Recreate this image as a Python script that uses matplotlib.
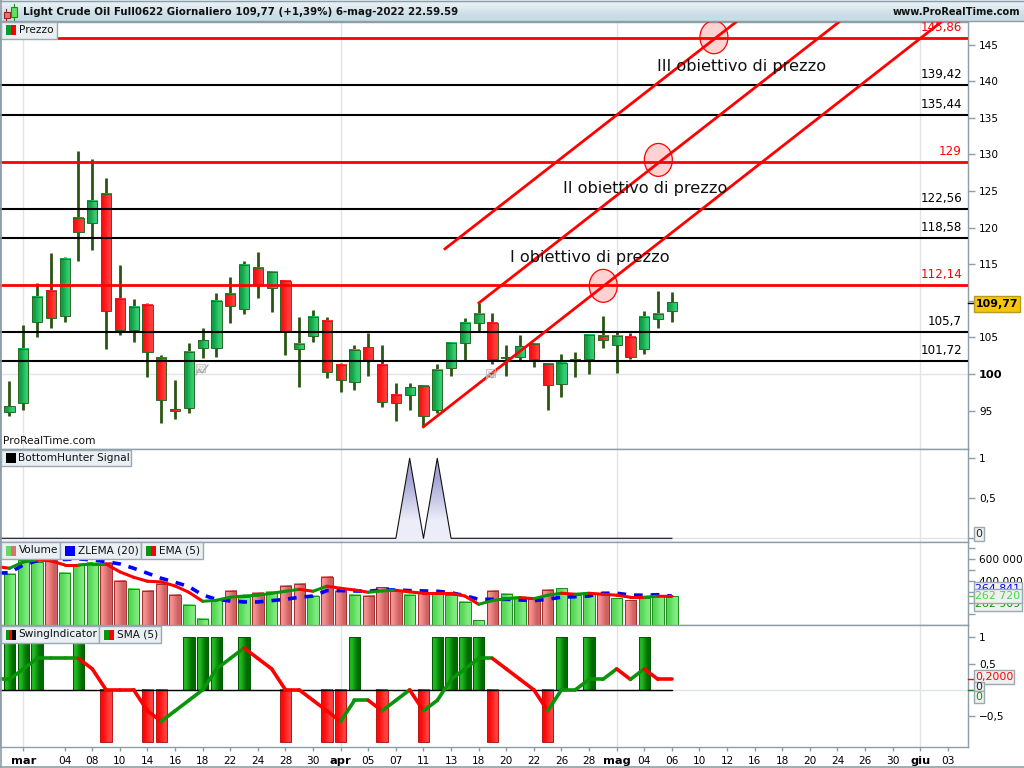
import numpy as np
import matplotlib
matplotlib.use("Agg")
import matplotlib.pyplot as plt
from matplotlib.colors import LinearSegmentedColormap
from matplotlib.patches import Rectangle, Ellipse

# price candles, one per session
opens = [94.84, 95.99, 107.07, 111.31, 107.89, 121.30, 120.62, 124.58, 110.30, 105.98,
         109.40, 102.15, 95.17, 95.31, 103.52, 103.52, 110.90, 108.85, 114.46, 111.72,
         112.76, 103.38, 105.16, 107.29, 101.23, 98.86, 103.65, 101.19, 97.09, 97.09,
         98.32, 95.03, 100.78, 104.20, 106.94, 106.94, 102.15, 102.37, 104.06, 101.33,
         98.59, 101.74, 102.01, 105.16, 103.93, 105.02, 103.38, 107.48, 108.58]
highs = [99.04, 106.70, 112.41, 116.51, 115.96, 130.51, 129.41, 126.81, 114.91, 110.22,
         109.67, 102.56, 99.18, 104.20, 106.25, 111.04, 113.27, 115.42, 116.65, 114.05,
         112.82, 107.76, 108.76, 107.76, 101.55, 103.93, 105.57, 103.93, 98.73, 98.73,
         98.50, 101.33, 104.34, 107.62, 109.67, 108.30, 103.93, 105.29, 104.20, 101.33,
         102.69, 102.97, 105.29, 107.89, 105.84, 105.57, 108.58, 111.31, 111.18]
lows = [94.30, 95.08, 105.10, 106.33, 107.15, 115.50, 117.00, 103.46, 105.38, 104.42,
        99.63, 93.34, 93.89, 94.71, 102.23, 102.37, 107.02, 108.25, 110.44, 108.52,
        102.64, 98.26, 104.42, 99.49, 97.58, 97.85, 99.77, 95.53, 93.61, 95.12,
        92.79, 94.71, 99.77, 101.96, 105.92, 101.41, 99.77, 101.78, 101.00, 95.12,
        96.89, 99.63, 100.04, 103.60, 100.18, 102.01, 102.78, 106.33, 107.15]
closes = [95.58, 103.38, 110.49, 107.62, 115.69, 119.38, 123.63, 108.58, 105.98, 109.21,
          102.97, 96.40, 94.90, 102.97, 104.61, 109.95, 109.26, 114.87, 112.13, 113.91,
          105.84, 104.15, 107.76, 100.23, 99.14, 103.24, 101.82, 96.13, 95.99, 98.18,
          94.21, 100.51, 104.20, 106.94, 108.17, 102.01, 102.28, 103.79, 102.01, 98.45,
          101.55, 102.01, 105.29, 104.61, 105.16, 102.28, 107.76, 108.17, 109.77]

# horizontal levels and their labels
black_levels = [139.42, 135.44, 122.56, 118.58, 105.7, 101.72]
black_labels = ["139,42", "135,44", "122,56", "118,58", "105,7", "101,72"]
red_levels = [145.86, 129, 112.14]
red_labels = ["145,86", "129", "112,14"]

# channel lines
trend_x = [[30.0, 67.57], [34.02, 60.1], [31.56, 52.64]]
trend_y = [[92.79, 148.15], [109.71, 148.06], [117.10, 148.06]]

# price targets
target_x = [43.03, 47.02, 51.05]
target_y = [112.04, 129.24, 146.0]
target_names = ["I obiettivo di prezzo", "II obiettivo di prezzo", "III obiettivo di prezzo"]
target_text_x = [36.27, 40.1, 46.9]
target_text_y = [115.87, 125.3, 142.0]

# BottomHunter signal, starts one session before the first candle
hunter = [0, 0, 0, 0, 0, 0, 0, 0, 0, 0, 0, 0, 0, 0, 0, 0, 0, 0, 0, 0, 0, 0, 0, 0, 0, 0, 0, 0, 0, 0,
          1, 0, 1, 0, 0, 0, 0, 0, 0, 0, 0, 0, 0, 0, 0, 0, 0, 0, 0, 0]

# volume in thousands
volume = [464, 594, 575, 594, 473, 548, 566, 566, 400, 327, 309, 373, 273, 182, 55, 236, 309,
          255, 291, 300, 355, 373, 264, 436, 309, 273, 264, 345, 309, 273, 291, 291, 273, 209,
          45, 309, 282, 255, 236, 318, 336, 273, 291, 282, 245, 227, 245, 264, 262.72]
# these two start one session before the first candle
ema5 = [535, 518, 575, 594, 585, 548, 548, 557, 557, 485, 436, 400, 394, 357, 300, 218, 227,
        255, 266, 273, 291, 309, 327, 309, 355, 336, 321, 300, 312, 318, 303, 291, 291, 291,
        266, 191, 224, 242, 251, 242, 273, 291, 282, 291, 282, 273, 255, 255, 264, 262.9]
zlema20 = [473, 478, 548, 587, 594, 598, 603, 594, 578, 557, 518, 473, 427, 391, 351, 275, 236,
           221, 212, 212, 224, 236, 255, 266, 315, 315, 312, 309, 321, 321, 315, 312, 309, 296,
           269, 236, 236, 236, 230, 224, 236, 255, 260, 266, 291, 291, 275, 273, 278, 264.84]

# SwingIndicator bars and its 5 period average
swing = [1, 1, 1, 0, 0, 1, 0, -1, 0, 0, -1, -1, 0, 1, 1, 1, 0, 1, 0, 0, -1, 0, 0, -1, -1, 1, 0,
         -1, 0, 0, -1, 1, 1, 1, 1, -1, 0, 0, 0, -1, 1, 0, 1, 0, 0, 0, 1, 0, 0]
swing_sma = [.2, .2, .4, .6, .6, .6, .6, .4, 0, 0, 0, -.4, -.6, -.4, -.2, 0, .4, .6, .8, .6, .4, 0, 0,
             -.2, -.4, -.6, -.2, -.2, -.4, -.2, 0, -.4, -.2, .2, .4, .6, .6, .4, .2, 0, -.4, 0, 0,
             .2, .2, .4, .2, .4, .2, .2]

# y axis labels of the price panel, 110 sits under the last price badge
price_ticks = [95, 100, 105, 110, 115, 120, 125, 130, 135, 140, 145]
price_tick_names = ["95", "100", "105", "", "115", "120", "125", "130", "135", "140", "145"]

# x axis
tick_idx = [1, 4, 6, 8, 10, 12, 14, 16, 18, 20, 22, 24, 26, 28, 30, 32, 34, 36, 38, 40, 42, 44,
            46, 48, 50, 52, 54, 56, 58, 60, 62, 64, 66, 68]
tick_names = ["mar", "04", "08", "10", "14", "16", "18", "22", "24", "28", "30", "apr", "05", "07",
              "11", "13", "18", "20", "22", "26", "28", "mag", "04", "06", "10", "12", "16", "18",
              "20", "24", "26", "30", "giu", "03"]
month_idx = [1, 24, 44, 66]

AXCOL = "#8e9ea8"
GRID = "#e0e3e8"
WICK = "#2a5512"
EDGE = "#2a6a22"
GREEN = "#0a940a"
RED = "#ff0000"
XLIM = (-0.688, 69.46)

def cmap(a, b):
    return LinearSegmentedColormap.from_list("g", [a, b])

CANDLE_G = cmap("#0fa045", "#34cc72")
CANDLE_R = cmap("#ff1010", "#ff3c3c")
VOL_G = cmap("#55d855", "#80ea80")
VOL_R = cmap("#f59090", "#d06060")
SW_G = cmap("#20b820", "#006a00")
SW_R = cmap("#ff0808", "#ff4040")
HEAD = cmap("#e4eef3", "#c8dce6")

plt.rcParams["font.family"] = "DejaVu Sans"
fig = plt.figure(figsize=(10.24, 7.68), dpi=100, facecolor="white")

def panel(top, bottom, ylim):
    ax = fig.add_axes([0, 1 - bottom / 768, 968 / 1024, (bottom - top) / 768])
    ax.set_xlim(*XLIM)
    ax.set_ylim(*ylim)
    ax.set_autoscale_on(False)
    ax.yaxis.tick_right()
    ax.tick_params(axis="y", length=5, width=1, color=AXCOL, labelsize=7.6, pad=3)
    ax.set_xticks([])
    for s in ax.spines.values():
        s.set_color(AXCOL)
        s.set_linewidth(1)
    for m in month_idx:
        ax.axvline(m, color=GRID, lw=1, zorder=0)
    return ax

def grad_box(ax, x0, x1, y0, y1, cm, edge, z=3):
    ax.imshow([[0, 1]], extent=[x0, x1, y0, y1], aspect="auto", cmap=cm, vmin=0, vmax=1,
              interpolation="bilinear", origin="lower", zorder=z)
    ax.add_patch(Rectangle((x0, y0), x1 - x0, y1 - y0, fc="none", ec=edge, lw=0.7, zorder=z + 0.1))

def colored_line(ax, x, y, lw):
    # rising green, falling red, flat keeps the previous colour
    col = GREEN
    for k in range(len(x) - 1):
        if y[k + 1] > y[k]:
            col = GREEN
        elif y[k + 1] < y[k]:
            col = RED
        ax.plot(x[k:k + 2], y[k:k + 2], color=col, lw=lw, solid_capstyle="round", zorder=6)

# price panel
ax1 = panel(21.5, 449, (89.75, 148.15))
ax1.axhline(100, color=GRID, lw=1, zorder=0)
for i in range(len(opens)):
    ax1.plot([i, i], [lows[i], highs[i]], color=WICK, lw=2, solid_capstyle="butt", zorder=2)
    lo, hi = min(opens[i], closes[i]), max(opens[i], closes[i])
    grad_box(ax1, i - 0.37, i + 0.37, lo, hi, CANDLE_G if closes[i] >= opens[i] else CANDLE_R, EDGE)
for lv, lab in zip(black_levels, black_labels):
    ax1.axhline(lv, color="black", lw=1.5, zorder=4)
    ax1.text(69.02, lv + 0.55, lab, ha="right", va="bottom", fontsize=8.6, color="black", zorder=8)
for lv, lab in zip(red_levels, red_labels):
    ax1.axhline(lv, color=RED, lw=2, zorder=4)
    ax1.text(69.02, lv + 0.55, lab, ha="right", va="bottom", fontsize=8.6, color=RED, zorder=8)
for tx, ty in zip(trend_x, trend_y):
    ax1.plot(tx, ty, color=RED, lw=2, zorder=5)
for tx, ty in zip(target_x, target_y):
    ax1.add_patch(Ellipse((tx, ty), 2.03, 4.5, fc=(1, 0, 0, 0.18), ec=RED, lw=0.9, zorder=6))
for name, tx, ty in zip(target_names, target_text_x, target_text_y):
    ax1.text(tx, ty, name, fontsize=11.6, ha="left", va="center", color="#111111", zorder=7)
ax1.set_yticks(price_ticks)
ax1.set_yticklabels(price_tick_names)
for lab in ax1.get_yticklabels():
    if lab.get_text() == "100":
        lab.set_fontweight("bold")
        lab.set_fontsize(8.2)
ax1.text(-0.5, 90.15, "ProRealTime.com", fontsize=7.7, ha="left", va="bottom", color="#111111", zorder=8)

# BottomHunter panel
ax2 = panel(449, 541.5, (-0.04, 1.116))
hx = np.arange(-1, len(opens))
ax2.axhline(0, color=GRID, lw=1, zorder=0)
poly = ax2.fill_between(hx, hunter, -0.04, facecolor="none", edgecolor="none")
im = ax2.imshow([[0], [1]], extent=[-1, 48, -0.04, 1.0], aspect="auto", origin="lower", vmin=0, vmax=1,
                cmap=cmap("#ecedf8", "#a4a4d6"), interpolation="bilinear", zorder=2)
im.set_clip_path(poly.get_paths()[0], transform=ax2.transData)
ax2.plot(hx, hunter, color="#111111", lw=0.8, zorder=3)
ax2.set_yticks([0, 0.5, 1])
ax2.set_yticklabels(["", "0,5", "1"])

# volume panel
ax3 = panel(541.5, 625.3, (0, 761))
for i, v in enumerate(volume):
    up = i == 0 or closes[i] >= closes[i - 1]
    grad_box(ax3, i - 0.41, i + 0.41, 0, v, VOL_G if up else VOL_R, "#1c8c1c" if up else "#a03030")
ax3.plot(hx, zlema20, color="#0000ff", lw=2.6, dashes=(2.4, 2.2), zorder=5)
colored_line(ax3, hx, ema5, 2.2)
ax3.set_yticks([100, 200, 300, 400, 500, 600, 700])
ax3.set_yticklabels(["", "", "", "400 000", "", "600 000", ""])

# swing panel
ax4 = panel(625.3, 747, (-1.09, 1.232))
ax4.axhline(0, color=GRID, lw=1, zorder=0)
for i, s in enumerate(swing):
    if s > 0:
        grad_box(ax4, i - 0.41, i + 0.41, 0, s, SW_G, "#005a00")
    elif s < 0:
        grad_box(ax4, i - 0.41, i + 0.41, s, 0, SW_R, "#b81818")
ax4.plot([-1, 48], [0, 0], color="black", lw=1, zorder=5)
colored_line(ax4, hx, swing_sma, 2.6)
ax4.set_yticks([-0.5, 0, 0.5, 1])
ax4.set_yticklabels(["\u22120,5", "", "0,5", "1"])
ax4.set_xticks(tick_idx)
ax4.set_xticklabels(tick_names, fontsize=7.6)
ax4.tick_params(axis="x", length=3, width=1, color=AXCOL, pad=3.5)
for lab in ax4.get_xticklabels():
    if lab.get_text() in ("mar", "apr", "mag", "giu"):
        lab.set_fontweight("bold")
        lab.set_fontsize(8.2)

# overlay in pixel coordinates for header, legend tabs and value badges
ov = fig.add_axes([0, 0, 1, 1], zorder=20)
ov.set_xlim(0, 1024)
ov.set_ylim(768, 0)
ov.set_autoscale_on(False)
ov.patch.set_alpha(0)
ov.axis("off")

ov.imshow([[0], [1]], extent=[0, 1024, 21, 0], aspect="auto", cmap=HEAD, origin="upper", vmin=0, vmax=1,
          interpolation="bilinear", zorder=1)
ov.plot([0, 1024], [21, 21], color=AXCOL, lw=1, zorder=2)
ov.plot([0, 1024], [767, 767], color=AXCOL, lw=1.2, zorder=2)
ov.plot([0.6, 0.6], [0, 767], color=AXCOL, lw=1.2, zorder=2)
ov.plot([0, 1024], [0.5, 0.5], color=AXCOL, lw=1, zorder=2)
ov.text(23, 12, "Light Crude Oil Full0622 Giornaliero 109,77 (+1,39%) 6-mag-2022 22.59.59",
        fontsize=7.35, fontweight="bold", va="center", ha="left", color="#111111", zorder=3)
ov.text(1020, 12, "www.ProRealTime.com", fontsize=7.1, fontweight="bold", va="center", ha="right",
        color="#111111", zorder=3)

# header icon
ov.plot([6, 6], [9, 20], color="#a02020", lw=0.8, zorder=3)
ov.add_patch(Rectangle((3.5, 11.5), 6, 6, fc="#f07070", ec="#a02020", lw=0.8, zorder=4))
ov.plot([14, 14], [4, 20], color="#1c8c1c", lw=0.8, zorder=3)
ov.add_patch(Rectangle((11, 7), 6, 9.5, fc="#60e060", ec="#1c8c1c", lw=0.8, zorder=4))

def tab(x0, x1, y0, y1, label, colors):
    ov.add_patch(Rectangle((x0, y0), x1 - x0, y1 - y0, fc="#e9eff3", ec="#9aa9b2", lw=1, zorder=5))
    w = 10 / len(colors)
    for k, c in enumerate(colors):
        ov.add_patch(Rectangle((x0 + 5 + k * w, y0 + 3.5), w, 10, fc=c, ec="none", zorder=6))
    ov.text(x0 + 18, (y0 + y1) / 2, label, fontsize=7.6, va="center", ha="left", color="#111111", zorder=6)

tab(0.5, 57, 21.5, 38.5, "Prezzo", ["#0a9a30", "#ff0000"])
tab(0.5, 131, 449.5, 466, "BottomHunter Signal", ["#000000"])
tab(0.5, 60, 542, 558.5, "Volume", ["#60dc60", "#e07070"])
tab(60, 141, 542, 558.5, "ZLEMA (20)", ["#0000ff"])
tab(141, 203, 542, 558.5, "EMA (5)", ["#0a940a", "#ff0000"])
tab(0.5, 99, 626, 642.5, "SwingIndicator", ["#0a940a", "#ff0000", "#000000"])
tab(99, 161, 626, 642.5, "SMA (5)", ["#0a940a", "#ff0000"])

def badge(x0, x1, y0, y1, label, color, fc="#f0f0f0", ec="#9aa9b2", weight="normal", z=7):
    ov.add_patch(Rectangle((x0, y0), x1 - x0, y1 - y0, fc=fc, ec=ec, lw=1, zorder=z))
    ov.text((x0 + x1) / 2, (y0 + y1) / 2 + 0.3, label, fontsize=7.9, color=color, fontweight=weight,
            ha="center", va="center", zorder=z + 0.1)

badge(974, 1019.5, 296, 312, "109,77", "black", fc="#f6c60a", ec="#b89a20", weight="bold")
badge(974, 983.5, 527, 541, "0", "#222222")
badge(974, 1021.5, 581.5, 596, "264 841", "#0000ff")
badge(974, 1021.5, 597, 610.5, "262 909", "#0a940a")
badge(974, 1021.5, 589, 603, "262 720", "#44d844", z=8)
badge(974, 1014, 669.5, 684, "0,2000", "#ff0000")
badge(974, 983.5, 681.5, 691, "0", "#222222")
badge(974, 983.5, 691, 703, "0", "#0a940a", z=8)

# small value ticks beside the badges
ov.plot([968, 973], [596.4, 596.4], color="#44d844", lw=1, zorder=3)
ov.plot([968, 973], [679, 679], color=RED, lw=1, zorder=3)
ov.plot([968, 973], [689.7, 689.7], color=GREEN, lw=1, zorder=3)
ov.plot([968, 973], [303, 303], color="black", lw=1, zorder=3)

# grey event icons on the price chart
for ix, iy in ((196, 364), (486, 369)):
    ov.add_patch(Rectangle((ix, iy), 9, 8, fc="none", ec="#bcbcbc", lw=0.6, hatch="......", zorder=3))
    ov.plot([ix, ix + 3, ix + 6, ix + 12], [iy + 11, iy + 5, iy + 9, iy + 1], color="#aaaaaa", lw=0.9, zorder=3)

fig.savefig("out.png", dpi=100)
